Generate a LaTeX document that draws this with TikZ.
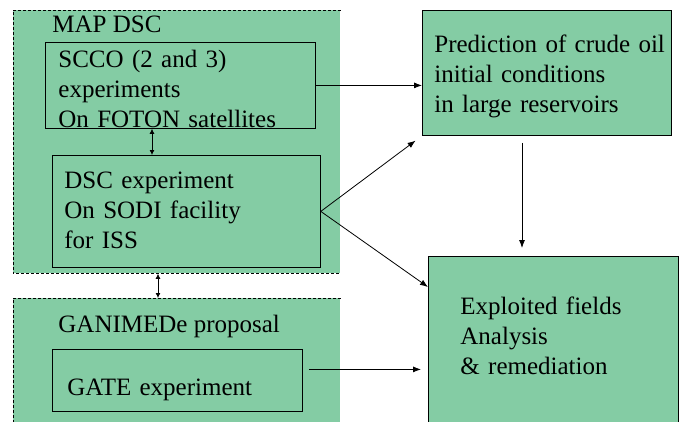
\documentclass[tikz,border=0pt]{standalone}
\usepackage{fontspec}
\setmainfont{Liberation Serif}
\usepackage{tikz}
\usetikzlibrary{arrows.meta}
\definecolor{verde}{RGB}{132,204,164}

\begin{document}
\begin{tikzpicture}[x=1pt,y=-1pt,line width=0.8pt,
    font=\fontsize{25}{30}\selectfont,
    grupo/.style={fill=verde,anchor=north west,inner sep=0pt},
    borde/.style={dash pattern=on 3pt off 2pt},
    caja/.style={draw,fill=verde,anchor=north west,align=left,inner ysep=0pt},
    titulo/.style={anchor=base west,inner sep=0pt},
    flecha/.style={-{Latex[length=8pt,width=6pt]}},
    doble/.style={{Latex[length=5pt,width=5pt]}-{Latex[length=5pt,width=5pt]}}]

    \clip (0,0) rectangle (684,421);

    % Grupos
    \node[grupo,minimum width=327pt,minimum height=263pt] (mapdsc) at (13,10) {};
    \node[grupo,minimum width=327pt,minimum height=140pt] (ganimede) at (13,298) {};
    \draw[borde] (mapdsc.north east) -- (mapdsc.north west) -- (mapdsc.south west) -- (mapdsc.south east);
    \draw[borde] (ganimede.north east) -- (ganimede.north west) -- (ganimede.south west);
    \node[titulo] (maptit) at (52,32) {MAP DSC};
    \node[titulo] (gantit) at (58,332) {GANIMEDe proposal};

    % Experimentos
    \node[caja,minimum width=270pt,inner xsep=13pt,text width=244pt,text height=25pt,text depth=61pt] (scco) at (45,42)
        {SCCO (2 and 3)\\experiments\\On FOTON satellites};
    \node[caja,minimum width=268pt,inner xsep=12pt,text width=244pt,text height=33pt,text depth=79pt] (dsc) at (52,155)
        {DSC experiment\\On SODI facility\\for ISS};
    \node[caja,minimum width=250pt,inner xsep=15pt,text width=220pt,text height=46pt,text depth=16pt] (gate) at (52,349)
        {GATE experiment};

    % Resultados
    \node[caja,minimum width=249pt,inner xsep=12pt,text width=225pt,text height=42pt,text depth=83pt] (pred) at (422,10)
        {\mbox{Prediction of crude oil}\\initial conditions\\in large reservoirs};
    \node[caja,minimum width=250pt,inner xsep=32pt,text width=186pt,text height=58pt,text depth=112pt] (exploit) at (428,256)
        {Exploited fields\\Analysis\\\& remediation};

    % Flechas dobles
    \draw[doble] ([xshift=107pt]scco.south west) -- ([xshift=100pt]dsc.north west);
    \draw[doble] ([xshift=145pt]mapdsc.south west) -- ([xshift=145pt]ganimede.north west);

    % Flechas
    \draw[flecha] (scco.east) -- (scco.east -| pred.west);
    \draw[flecha,shorten >=8pt] (dsc.east) -- (pred.south west);
    \draw[flecha] (dsc.east) -- ([yshift=-31pt]exploit.north west);
    \coordinate (predout) at ([xshift=100pt]pred.south west);
    \draw[flecha,shorten <=7pt,shorten >=8pt] (predout) -- (predout |- exploit.north);
    \coordinate (gateout) at ([yshift=11pt]gate.east);
    \draw[flecha,shorten <=6pt,shorten >=7pt] (gateout) -- (gateout -| exploit.west);
\end{tikzpicture}
\end{document}
